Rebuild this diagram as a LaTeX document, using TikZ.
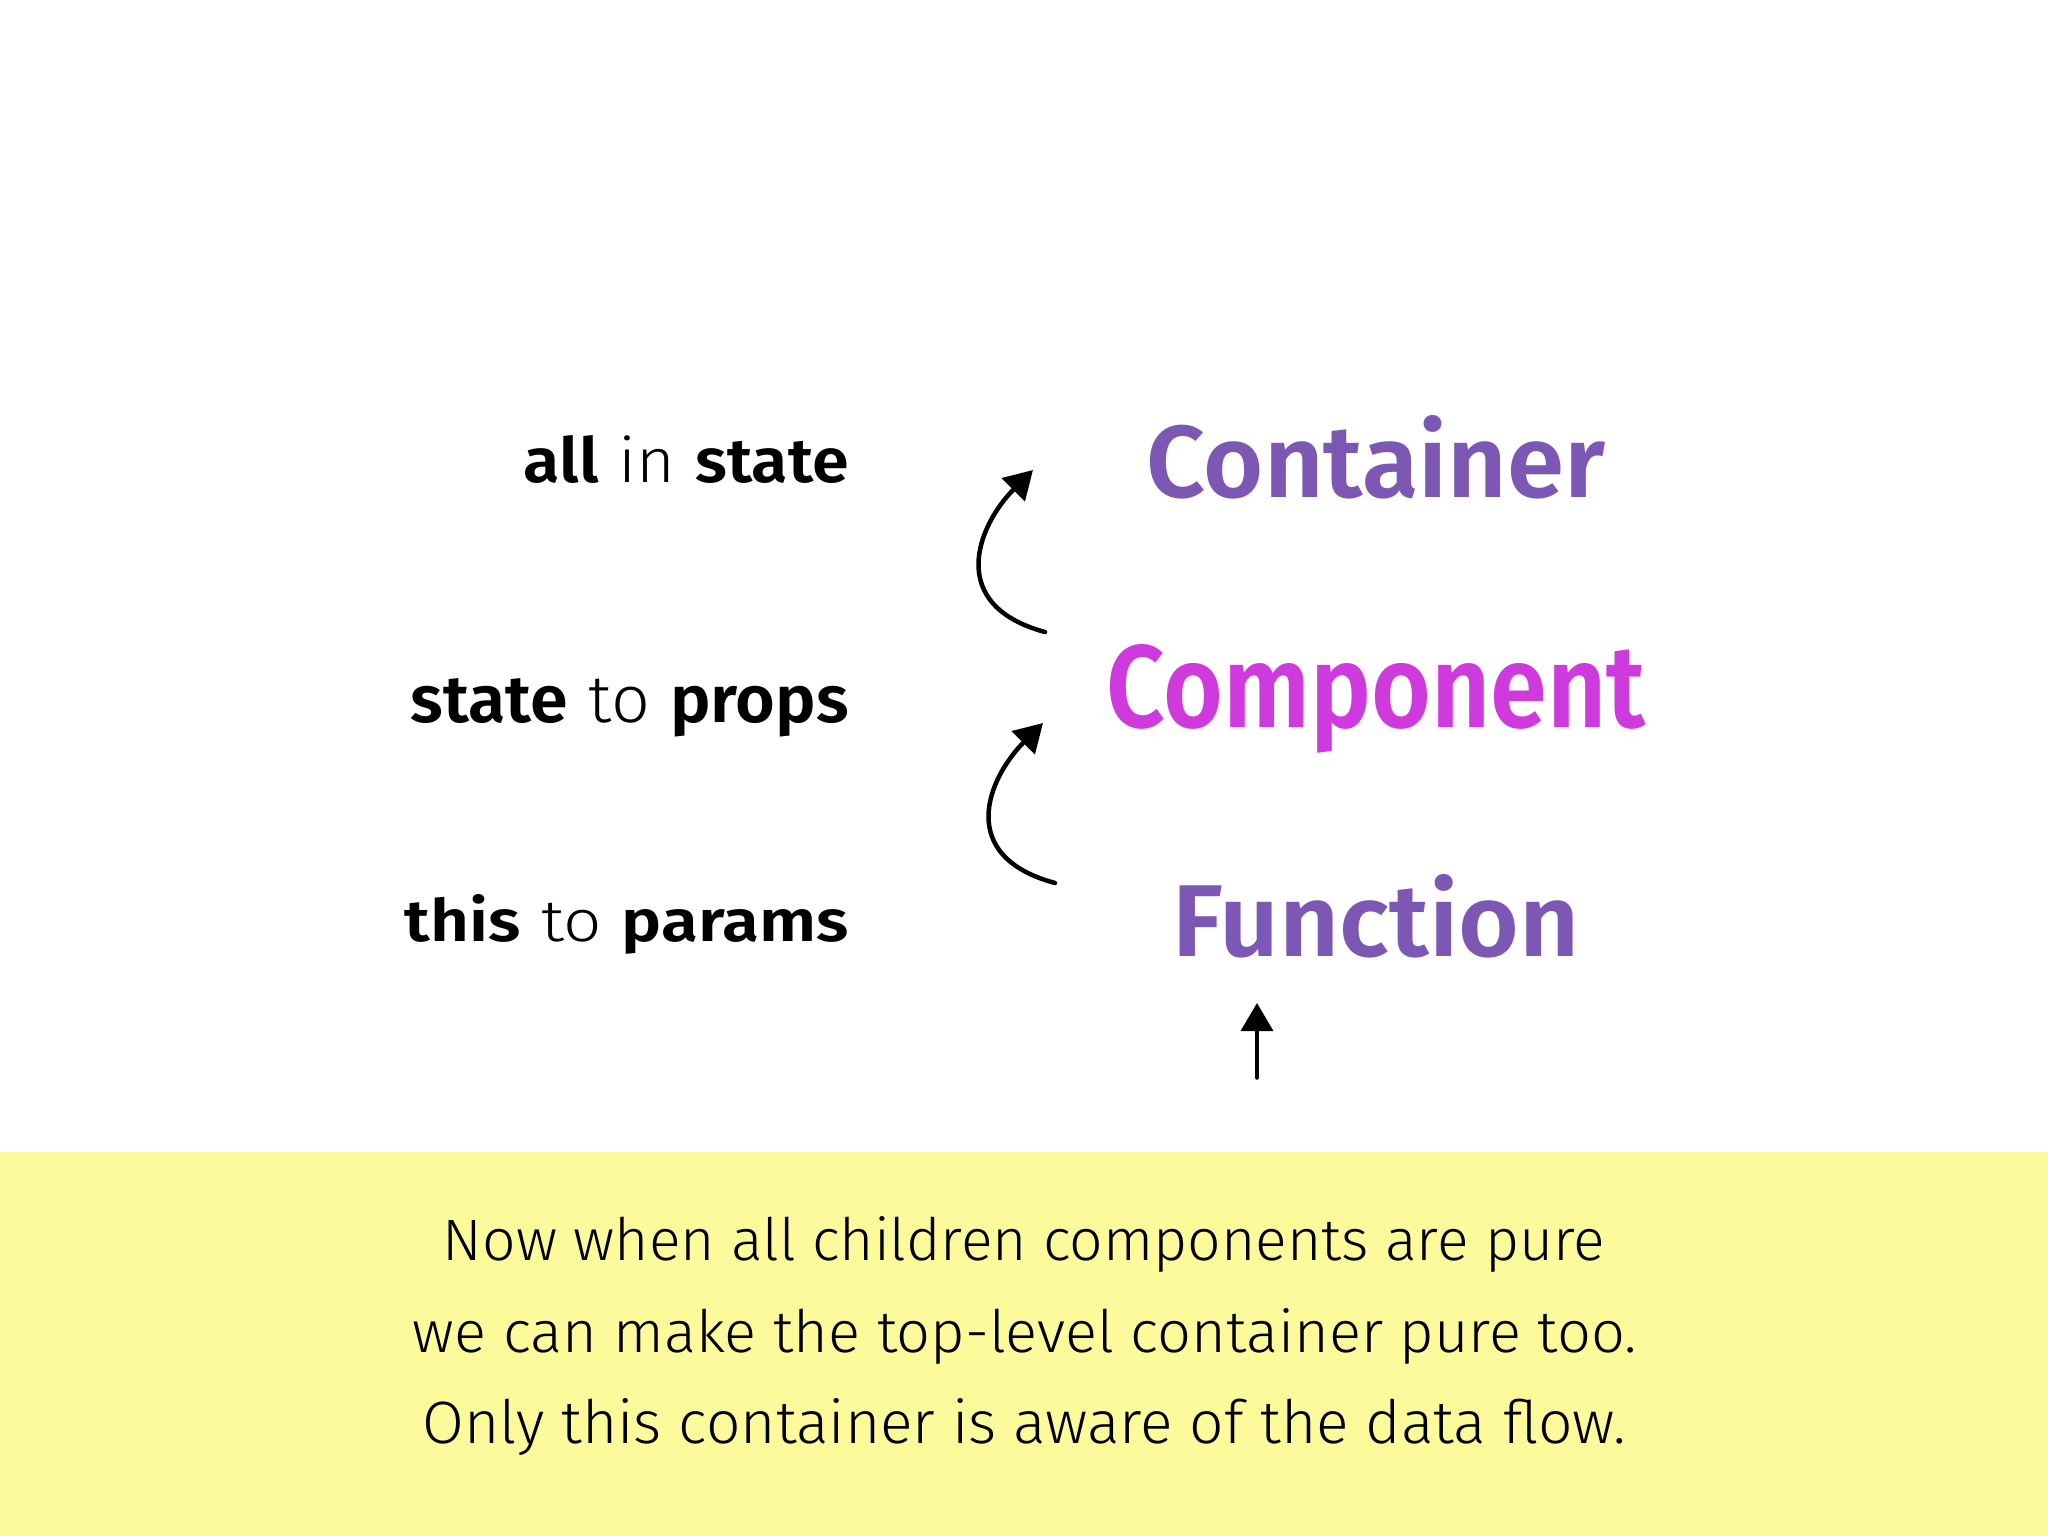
\documentclass[tikz,border=0pt]{standalone}
\usepackage{fontspec}
\setmainfont{Fira Sans}
\newfontfamily\lightf{Fira Sans Light}
\newfontfamily\boldf{Fira Sans SemiBold}
\usetikzlibrary{arrows.meta}
\definecolor{contc}{RGB}{124,88,180}
\definecolor{compc}{RGB}{206,58,222}
\definecolor{bandc}{RGB}{253,250,155}
\newcommand\rbx[3]{\resizebox{#1pt}{#2pt}{#3}}
\begin{document}
\begin{tikzpicture}[x=1pt,y=-1pt,
  lbl/.style={inner sep=0pt, outer sep=0pt, text=black},
  big/.style={inner sep=0pt, outer sep=0pt, anchor=base},
  note/.style={inner sep=0pt, outer sep=0pt, anchor=base, text=black},
  brush/.style={line width=4.5pt, line cap=round, black,
     -{Triangle[length=28pt,width=32pt]}}]
\useasboundingbox (0,0) rectangle (2048,1536);
\fill[white] (0,0) rectangle (2048,1152);
\fill[bandc] (0,1152) rectangle (2048,1536);
% left labels
\node[lbl, anchor=base east] (l1) at (849,482) {\rbx{325}{47}{\boldf all\hspace{0.3em}\lightf in\hspace{0.3em}\boldf state}};
\node[lbl, anchor=base east] (l2) at (849,722) {\rbx{438}{44}{\boldf state\hspace{0.3em}\lightf to\hspace{0.3em}\boldf props}};
\node[lbl, anchor=base east] (l3) at (849,941) {\rbx{444}{47}{\boldf this\hspace{0.3em}\lightf to\hspace{0.3em}\boldf params}};
% right words
\node[big, text=contc] (cont) at (1376,497) {\rbx{458}{82}{\boldf Container}};
\node[big, text=compc] (comp) at (1376,727) {\rbx{539}{83}{\boldf Component}};
\node[big, text=contc] (func) at (1376,956) {\rbx{407}{82}{\boldf Function}};
% arrows
\coordinate (t1) at (1045,632);
\coordinate (h1) at (1033,470);
\coordinate (t2) at (1055,883);
\coordinate (h2) at (1043,723);
\coordinate (t3) at (1257,1078);
\coordinate (h3) at (1257,1003);
\draw[brush] (t1) .. controls +(-100,-27) and +(-55,55) .. (h1);
\draw[brush] (t2) .. controls +(-100,-27) and +(-55,55) .. (h2);
\draw[brush, line width=3.5pt] (t3) -- (h3);
% bottom note
\node[note] (n1) at (1024,1260) {\rbx{1162}{44}{\lightf Now when all children components are pure}};
\node[note] (n2) at (1025,1352) {\rbx{1224}{44}{\lightf we can make the top-level container pure too.}};
\node[note] (n3) at (1024.5,1443) {\rbx{1203}{45}{\lightf Only this container is aware of the data flow.}};
\end{tikzpicture}
\end{document}
